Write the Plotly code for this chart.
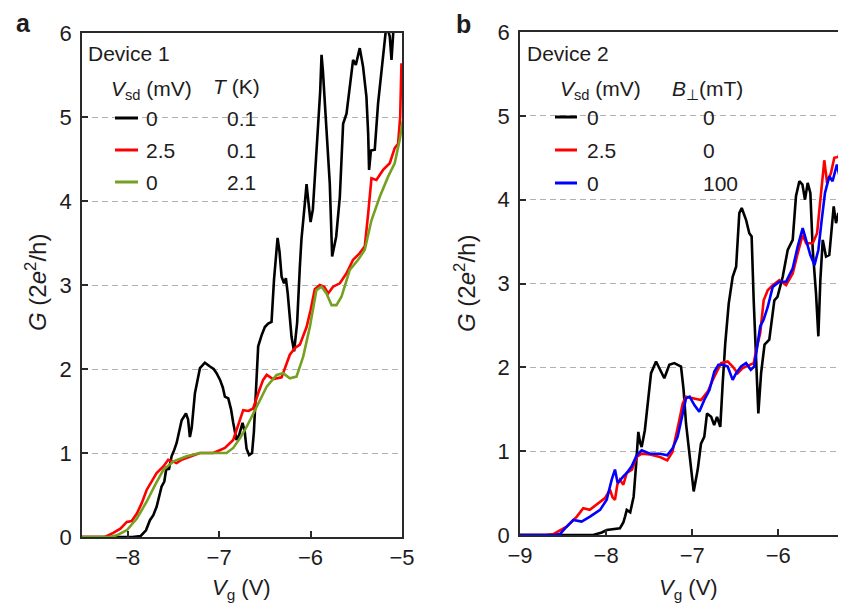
import plotly.graph_objects as go

# ---------------- data ----------------
a_black_v = [-8.5, -8.2, -7.95, -7.86, -7.80, -7.757, -7.72, -7.684, -7.63, -7.60, -7.574, -7.55, -7.52, -7.49,
             -7.465, -7.41, -7.363, -7.34, -7.32, -7.30, -7.265, -7.21, -7.156, -7.10, -7.06, -7.028, -6.99,
             -6.96, -6.937, -6.90, -6.87, -6.846, -6.81, -6.78, -6.744, -6.72, -6.70, -6.672, -6.64, -6.62,
             -6.609, -6.59, -6.573, -6.536, -6.50, -6.464, -6.427, -6.40, -6.361, -6.34, -6.317, -6.29, -6.27,
             -6.25, -6.208, -6.18, -6.147, -6.117, -6.10, -6.063, -6.044, -6.025, -6.0, -5.975, -5.954, -5.917,
             -5.895, -5.88, -5.865, -5.826, -5.79, -5.764, -5.72, -5.68, -5.644, -5.607, -5.571, -5.535, -5.505,
             -5.462, -5.426, -5.389, -5.37, -5.36, -5.34, -5.298, -5.262, -5.225, -5.19, -5.17, -5.134, -5.115,
             -5.09, -5.06]
a_black_g = [0.0, 0.0, 0.0, 0.01, 0.08, 0.20, 0.26, 0.36, 0.60, 0.66, 0.84, 0.80, 0.96, 1.04,
             1.12, 1.39, 1.47, 1.40, 1.19, 1.30, 1.71, 2.01, 2.075, 2.03, 2.0, 1.95, 1.87,
             1.78, 1.67, 1.65, 1.52, 1.36, 1.155, 1.22, 1.36, 1.25, 1.05, 0.976, 1.0, 1.25,
             1.47, 1.90, 2.27, 2.40, 2.50, 2.54, 2.56, 3.06, 3.56, 3.40, 3.10, 3.02, 3.08,
             2.90, 2.38, 2.21, 2.55, 3.22, 3.54, 3.97, 4.20, 4.0, 3.75, 3.9, 4.28, 4.85,
             5.3, 5.74, 5.55, 4.85, 4.21, 3.34, 3.575, 4.05, 4.92, 5.04, 5.36, 5.68, 5.62,
             5.82, 5.60, 5.24, 4.8, 4.37, 4.60, 4.61, 5.16, 5.52, 5.92, 6.1, 5.96, 5.68,
             6.1, 6.4]

a_red_v = [-8.5, -8.25, -8.158, -8.08, -8.01, -7.957, -7.90, -7.848, -7.793, -7.738, -7.684, -7.61, -7.557,
           -7.51, -7.465, -7.41, -7.356, -7.28, -7.21, -7.14, -7.065, -7.0, -6.937, -6.846, -6.79, -6.737,
           -6.68, -6.628, -6.57, -6.519, -6.48, -6.41, -6.317, -6.27, -6.227, -6.17, -6.117, -6.044, -6.0,
           -5.954, -5.899, -5.85, -5.808, -5.754, -5.68, -5.607, -5.535, -5.462, -5.407, -5.37, -5.334,
           -5.28, -5.207, -5.134, -5.08, -5.043, -5.02, -5.006]
a_red_g = [0.0, 0.0, 0.05, 0.10, 0.18, 0.19, 0.28, 0.40, 0.56, 0.66, 0.76, 0.84, 0.92,
           0.90, 0.88, 0.92, 0.94, 0.97, 1.00, 1.0, 1.0, 1.03, 1.06, 1.155, 1.35, 1.51,
           1.50, 1.53, 1.72, 1.87, 1.93, 1.88, 1.90, 2.05, 2.17, 2.25, 2.29, 2.50, 2.70,
           2.95, 3.00, 2.98, 2.90, 2.98, 3.02, 3.14, 3.30, 3.38, 3.46, 3.85, 4.27,
           4.25, 4.37, 4.45, 4.63, 4.68, 5.0, 5.64]

a_green_v = [-8.5, -8.2, -8.12, -8.01, -7.90, -7.793, -7.70, -7.61, -7.50, -7.356, -7.21, -7.065, -6.92,
             -6.846, -6.77, -6.70, -6.59, -6.48, -6.372, -6.30, -6.227, -6.154, -6.08, -6.008, -5.936,
             -5.88, -5.826, -5.77, -5.717, -5.662, -5.571, -5.48, -5.407, -5.334, -5.243, -5.152, -5.08,
             -5.025, -4.99]
a_green_g = [0.0, 0.0, 0.02, 0.08, 0.22, 0.42, 0.62, 0.80, 0.90, 0.96, 1.0, 1.0, 1.0,
             1.06, 1.18, 1.31, 1.55, 1.79, 1.93, 1.95, 1.89, 1.91, 2.15, 2.50, 2.94,
             2.98, 2.90, 2.76, 2.76, 2.86, 3.18, 3.30, 3.42, 3.77, 4.05, 4.29, 4.45,
             4.73, 4.96]

b_black_v = [-9.0, -8.6, -8.15, -8.05, -7.993, -7.84, -7.80, -7.78, -7.76, -7.72, -7.68, -7.65, -7.626,
             -7.605, -7.587, -7.55, -7.517, -7.478, -7.42, -7.374, -7.324, -7.266, -7.208, -7.13, -7.10,
             -7.072, -7.03, -6.983, -6.936, -6.898, -6.86, -6.828, -6.78, -6.745, -6.712, -6.674, -6.646,
             -6.616, -6.576, -6.53, -6.49, -6.453, -6.425, -6.375, -6.337, -6.31, -6.286, -6.26, -6.232,
             -6.20, -6.16, -6.105, -6.046, -6.01, -5.949, -5.891, -5.833, -5.795, -5.756, -5.72, -5.69,
             -5.659, -5.628, -5.60, -5.562, -5.535, -5.512, -5.484, -5.446, -5.408, -5.357, -5.33, -5.303,
             -5.272, -5.233, -5.20]
b_black_g = [0.0, 0.0, 0.0, 0.03, 0.06, 0.08, 0.15, 0.22, 0.30, 0.27, 0.46, 0.86, 1.23,
             1.10, 1.05, 1.25, 1.57, 1.93, 2.07, 1.97, 1.87, 2.03, 2.05, 2.01, 1.73,
             1.33, 0.93, 0.52, 0.78, 1.09, 1.17, 1.45, 1.41, 1.31, 1.41, 1.29, 1.81,
             2.29, 2.76, 3.08, 3.20, 3.84, 3.90, 3.76, 3.60, 3.56, 2.80, 2.09, 1.45,
             1.93, 2.27, 2.33, 2.80, 2.84, 3.08, 3.40, 3.52, 4.04, 4.22, 4.18, 4.0,
             4.20, 4.08, 3.40, 2.88, 2.37, 3.04, 3.52, 3.32, 3.34, 3.92, 3.72, 3.84,
             3.60, 3.28, 3.30]

b_red_v = [-9.0, -8.7, -8.613, -8.55, -8.458, -8.34, -8.265, -8.19, -8.09, -8.013, -7.955, -7.925, -7.897,
           -7.87, -7.84, -7.80, -7.76, -7.70, -7.645, -7.587, -7.49, -7.374, -7.29, -7.23, -7.15, -7.11,
           -7.072, -6.994, -6.898, -6.82, -6.743, -6.665, -6.588, -6.53, -6.472, -6.414, -6.337, -6.286,
           -6.247, -6.21, -6.17, -6.123, -6.065, -5.988, -5.91, -5.833, -5.775, -5.717, -5.678, -5.60,
           -5.55, -5.512, -5.466, -5.434, -5.388, -5.35, -5.30, -5.264, -5.233, -5.20]
b_red_g = [0.0, 0.0, 0.01, 0.05, 0.10, 0.22, 0.32, 0.30, 0.38, 0.44, 0.54, 0.45, 0.42,
           0.60, 0.66, 0.60, 0.74, 0.78, 0.93, 0.97, 0.96, 0.93, 0.89, 0.99, 1.37, 1.57,
           1.65, 1.63, 1.61, 1.71, 1.89, 2.05, 2.07, 2.01, 1.93, 1.99, 2.03, 2.05,
           2.25, 2.41, 2.80, 2.92, 2.98, 3.04, 2.98, 3.12, 3.36, 3.58, 3.48, 3.48,
           3.60, 4.00, 4.47, 4.20, 4.32, 4.50, 4.51, 4.67, 4.50, 4.47]

b_blue_v = [-9.0, -8.6, -8.535, -8.477, -8.38, -8.284, -8.187, -8.07, -7.993, -7.935, -7.897, -7.866, -7.80,
            -7.76, -7.703, -7.645, -7.587, -7.49, -7.374, -7.29, -7.23, -7.17, -7.11, -7.072, -7.03, -6.975,
            -6.918, -6.86, -6.80, -6.743, -6.696, -6.64, -6.588, -6.53, -6.49, -6.433, -6.375, -6.32, -6.28,
            -6.247, -6.21, -6.17, -6.123, -6.065, -5.988, -5.91, -5.833, -5.775, -5.717, -5.678, -5.628,
            -5.58, -5.535, -5.496, -5.458, -5.408, -5.37, -5.32, -5.28, -5.24, -5.20]
b_blue_g = [0.0, 0.0, 0.01, 0.08, 0.18, 0.16, 0.22, 0.30, 0.42, 0.66, 0.78, 0.62, 0.70,
            0.74, 0.82, 0.95, 1.01, 0.97, 0.97, 0.95, 1.03, 1.17, 1.45, 1.63, 1.65, 1.55,
            1.47, 1.61, 1.73, 1.95, 2.03, 2.03, 2.01, 1.85, 1.93, 2.01, 2.05, 1.97, 2.01,
            2.25, 2.49, 2.57, 2.72, 2.96, 3.02, 3.02, 3.18, 3.44, 3.66, 3.52, 3.34,
            3.22, 3.40, 3.76, 4.08, 4.28, 4.22, 4.42, 4.24, 4.00, 3.96]

y_ticks = [0, 1, 2, 3, 4, 5, 6]
a_x_ticks = [-8, -7, -6, -5]
b_x_ticks = [-9, -8, -7, -6]

legend_a_rows = [("0", "0.1"), ("2.5", "0.1"), ("0", "2.1")]
legend_b_rows = [("0", "0"), ("2.5", "0"), ("0", "100")]

# ---------------- style ----------------
W, H = 846, 612
OFF = 8  # page body margin offset compensation
FONT = "Liberation Sans, Arial, Helvetica, sans-serif"
TXT = "#1e1c1d"
BLACK, RED, GREEN, BLUE = "#000000", "#ff0000", "#76a021", "#0000ff"
LW = 2.6


def px(x):
    return (x - OFF) / W


def py(y):
    return 1 - (y - OFF) / H


fig = go.Figure()
for v, g, c in [(a_black_v, a_black_g, BLACK), (a_red_v, a_red_g, RED), (a_green_v, a_green_g, GREEN)]:
    fig.add_trace(go.Scatter(x=v, y=g, mode="lines", line=dict(color=c, width=LW),
                             xaxis="x", yaxis="y", showlegend=False))
for v, g, c in [(b_black_v, b_black_g, BLACK), (b_red_v, b_red_g, RED), (b_blue_v, b_blue_g, BLUE)]:
    fig.add_trace(go.Scatter(x=v, y=g, mode="lines", line=dict(color=c, width=LW),
                             xaxis="x2", yaxis="y2", showlegend=False))

axis_common = dict(showline=True, linecolor="#2a2a2a", linewidth=1.8, ticks="inside", ticklen=6,
                   tickwidth=1.6, tickcolor="#2a2a2a", tickfont=dict(family=FONT, size=22, color=TXT),
                   zeroline=False, automargin=False)
grid = dict(showgrid=True, gridcolor="#b0b0b0", griddash="6px,4px", gridwidth=1)

fig.update_layout(
    width=W, height=H, margin=dict(l=0, r=0, t=0, b=0, pad=0, autoexpand=False),
    paper_bgcolor="white", plot_bgcolor="white", showlegend=False,
    xaxis=dict(domain=[px(82), px(402)], range=[-8.5, -5], tickvals=a_x_ticks, showgrid=False,
               mirror=True, anchor="y", ticklabelstandoff=0, **axis_common),
    yaxis=dict(domain=[py(537), py(33)], range=[0, 6], tickvals=y_ticks, mirror=True, anchor="x",
               ticklabelstandoff=4, **grid, **axis_common),
    xaxis2=dict(domain=[px(520), px(846)], range=[-9, -5.214], tickvals=b_x_ticks, showgrid=False,
                mirror=True, anchor="y2", ticklabelstandoff=0, **axis_common),
    yaxis2=dict(domain=[py(535), py(32)], range=[0, 6], tickvals=y_ticks, mirror=False, anchor="x2",
                ticklabelstandoff=4, **grid, **axis_common),
)

ann = []
shapes = []


def text(x, y, s, size=21, xanchor="left", angle=0, bold=False, yanchor="middle"):
    ann.append(dict(x=px(x), y=py(y), xref="paper", yref="paper", text=("<b>%s</b>" % s) if bold else s,
                    showarrow=False, xanchor=xanchor, yanchor=yanchor, textangle=angle, borderpad=0,
                    font=dict(family=FONT, size=size, color=TXT)))


# panel labels
text(15, 8, "a", size=25, bold=True, yanchor="top")
text(455, 9, "b", size=25, bold=True, yanchor="top")

# axis titles
ytitle = "<i>G</i> (2<i>e</i><sup>2</sup>/h)"
xtitle = "<i>V</i><sub>g</sub> (V)"
text(36, 283, ytitle, size=24, xanchor="center", angle=-90)
text(465, 283, ytitle, size=24, xanchor="center", angle=-90)
text(241, 589, xtitle, size=22, xanchor="center")
text(688, 589, xtitle, size=22, xanchor="center")

# legend backgrounds (hide gridlines)
shapes.append(dict(type="rect", xref="paper", yref="paper", x0=px(108), x1=px(280), y0=py(192), y1=py(40),
                   fillcolor="white", line=dict(width=0), layer="between"))
shapes.append(dict(type="rect", xref="paper", yref="paper", x0=px(547), x1=px(727), y0=py(194), y1=py(40),
                   fillcolor="white", line=dict(width=0), layer="between"))

# legend panel a
text(87, 54, "Device 1")
text(110, 90, "<i>V</i><sub>sd</sub> (mV)")
text(212, 87, "<i>T</i> (K)")
for (lab, val), yy, c in zip(legend_a_rows, [118, 150, 182], [BLACK, RED, GREEN]):
    shapes.append(dict(type="line", xref="paper", yref="paper", x0=px(115), x1=px(138), y0=py(yy), y1=py(yy),
                       line=dict(color=c, width=3)))
    text(145, yy, lab)
    text(226, yy, val)

# legend panel b
text(526, 54, "Device 2")
text(559, 90, "<i>V</i><sub>sd</sub> (mV)")
text(671, 90, "<i>B</i><sub>⊥</sub>(mT)")
for (lab, val), yy, c in zip(legend_b_rows, [117, 150, 183], [BLACK, RED, BLUE]):
    shapes.append(dict(type="line", xref="paper", yref="paper", x0=px(555), x1=px(577), y0=py(yy), y1=py(yy),
                       line=dict(color=c, width=3)))
    text(586, yy, lab)
    text(702, yy, val)

fig.update_layout(annotations=ann, shapes=shapes)
fig.write_html("out.html")
